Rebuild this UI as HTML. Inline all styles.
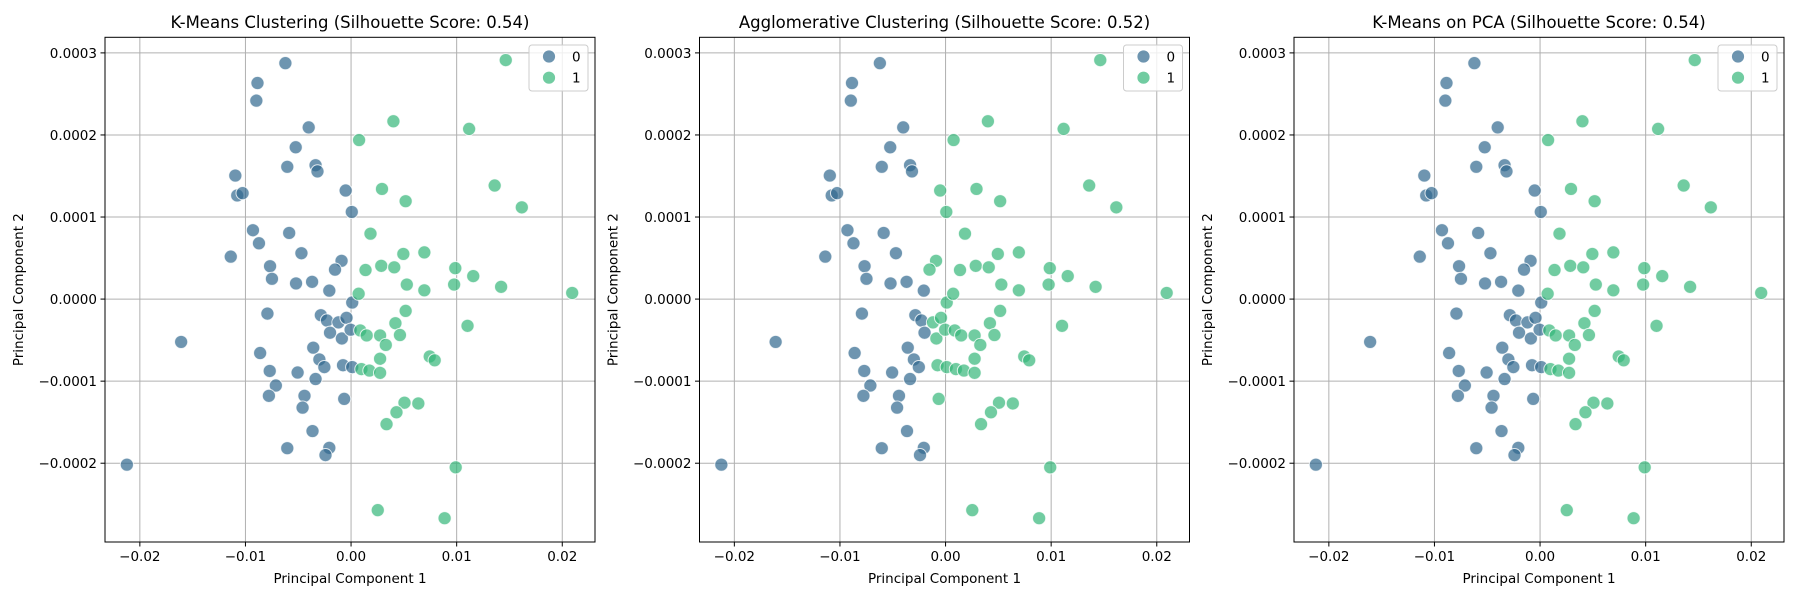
<!DOCTYPE html>
<html><head><meta charset="utf-8"><style>
html,body{margin:0;padding:0;background:#fff;}
svg{display:block;font-family:"DejaVu Sans","Liberation Sans",sans-serif;}
</style></head><body>
<svg id="fig" width="1800" height="600" viewBox="0 0 1800 600" xmlns="http://www.w3.org/2000/svg"></svg>
<script>
// Principal component values (x: PC1, y: PC2)
const pc1 = [-0.00622,-0.00886,-0.00897,-0.00401,-0.00524,-0.00604,-0.00336,-0.00318,-0.01096,-0.01078,-0.01027,-0.00051,0.00007,-0.00929,-0.00586,-0.00872,-0.01139,-0.0047,-0.0009,-0.00152,-0.00767,-0.00749,-0.00521,-0.00369,-0.00206,0.00011,-0.00792,-0.00286,-0.00228,-0.00119,-0.00043,-0.00199,-0.00087,-0.00004,-0.01609,-0.00861,-0.00358,-0.003,-0.00253,-0.00076,0.00011,-0.0077,-0.00506,-0.00336,-0.00712,-0.00778,-0.00441,-0.00459,-0.00065,-0.00365,-0.00604,-0.00206,-0.00242,-0.02123,
0.01465,0.00401,0.01118,0.00076,0.00293,0.00517,0.0136,0.01617,0.00184,0.00495,0.00694,0.00137,0.00286,0.00409,0.00987,0.01157,0.00528,0.00694,0.00976,0.01421,0.02094,0.00072,0.00517,0.0042,0.01103,0.00087,0.00148,0.00275,0.00463,0.00329,0.00275,0.00745,0.00792,0.00098,0.00174,0.00275,0.00506,0.00637,0.0043,0.00336,0.00991,0.00253,0.00886];
const pc2 = [2.875e-4,2.633e-4,2.418e-4,2.092e-4,1.850e-4,1.612e-4,1.631e-4,1.556e-4,1.505e-4,1.263e-4,1.291e-4,1.323e-4,1.062e-4,0.839e-4,0.806e-4,0.680e-4,0.517e-4,0.559e-4,0.466e-4,0.359e-4,0.401e-4,0.247e-4,0.191e-4,0.210e-4,0.103e-4,-0.042e-4,-0.177e-4,-0.196e-4,-0.261e-4,-0.284e-4,-0.228e-4,-0.410e-4,-0.480e-4,-0.373e-4,-0.522e-4,-0.657e-4,-0.592e-4,-0.736e-4,-0.829e-4,-0.806e-4,-0.829e-4,-0.876e-4,-0.895e-4,-0.974e-4,-1.053e-4,-1.179e-4,-1.179e-4,-1.323e-4,-1.216e-4,-1.608e-4,-1.817e-4,-1.813e-4,-1.901e-4,-2.018e-4,
2.912e-4,2.167e-4,2.074e-4,1.938e-4,1.342e-4,1.193e-4,1.384e-4,1.118e-4,0.797e-4,0.550e-4,0.569e-4,0.354e-4,0.405e-4,0.387e-4,0.377e-4,0.280e-4,0.177e-4,0.107e-4,0.177e-4,0.149e-4,0.075e-4,0.065e-4,-0.144e-4,-0.294e-4,-0.326e-4,-0.382e-4,-0.443e-4,-0.443e-4,-0.438e-4,-0.559e-4,-0.727e-4,-0.699e-4,-0.746e-4,-0.853e-4,-0.871e-4,-0.899e-4,-1.263e-4,-1.272e-4,-1.379e-4,-1.524e-4,-2.050e-4,-2.572e-4,-2.670e-4];
const labelsKMeans = "000000000000000000000000000000000000000000000000000000"+"1111111111111111111111111111111111111111111";
const labelsAgglo  = "00000000000110000011000001000110110000011000000010000"+"0"+"1111111111111111111111111111111111111111111";
const labelsPCA = labelsKMeans;
const titles = ["K-Means Clustering (Silhouette Score: 0.54)","Agglomerative Clustering (Silhouette Score: 0.52)","K-Means on PCA (Silhouette Score: 0.54)"];
const xTicks = [-0.02,-0.01,0,0.01,0.02];
const xTickLabels = ["\u22120.02","\u22120.01","0.00","0.01","0.02"];
const yTicks = [0.0003,0.0002,0.0001,0,-0.0001,-0.0002];
const yTickLabels = ["0.0003","0.0002","0.0001","0.0000","\u22120.0001","\u22120.0002"];
const palette = ["#31688e","#35b779"];

const NS="http://www.w3.org/2000/svg";
const fig=document.getElementById('fig');
function mk(tag,attrs,parent){const e=document.createElementNS(NS,tag);for(const k in attrs)e.setAttribute(k,attrs[k]);(parent||fig).appendChild(e);return e;}
const xMin=-0.0233,xMax=0.0231,yMin=-0.000296,yMax=0.000319;
const W=490,T=37.3,B=542;
[labelsKMeans,labelsAgglo,labelsPCA].forEach((labs,p)=>{
  const L=105+p*594.5;
  const sx=v=>L+(v-xMin)/(xMax-xMin)*W;
  const sy=v=>B-(v-yMin)/(yMax-yMin)*(B-T);
  const g=mk('g',{});
  
  
  const t=mk('text',{x:L+W/2,y:28,'text-anchor':'middle','font-size':16.5,fill:'#000'},g);t.textContent=titles[p];
  
  xTicks.forEach((v,i)=>{const x=sx(v);
    const gl=mk('line',{x1:x,x2:x,y1:T,y2:B,stroke:'#b0b0b0','stroke-width':1},g);
    
    mk('line',{x1:x,x2:x,y1:B,y2:B+4.5,stroke:'#000','stroke-width':1},g);
    const tl=mk('text',{x:x,y:B+19,'text-anchor':'middle','font-size':13.5},g);tl.textContent=xTickLabels[i];
    });
  yTicks.forEach((v,i)=>{const y=sy(v);
    const gl=mk('line',{x1:L,x2:L+W,y1:y,y2:y,stroke:'#b0b0b0','stroke-width':1},g);
    
    mk('line',{x1:L-4.5,x2:L,y1:y,y2:y,stroke:'#000','stroke-width':1},g);
    const tl=mk('text',{x:L-8,y:y+5,'text-anchor':'end','font-size':13.5},g);tl.textContent=yTickLabels[i];
    });
  pc1.forEach((v,i)=>{const c=+labs[i];
    const pt=mk('circle',{cx:sx(v),cy:sy(pc2[i]),r:6.6,fill:palette[c],'fill-opacity':0.7,stroke:'#fff','stroke-opacity':0.8,'stroke-width':1},g);
    });
  const fr=mk('rect',{x:L,y:T,width:W,height:B-T,fill:'none',stroke:'#000','stroke-width':1},g);
  
  const xl=mk('text',{x:L+W/2,y:583,'text-anchor':'middle','font-size':13.5},g);xl.textContent='Principal Component 1';
  
  const yl=mk('text',{x:0,y:0,'text-anchor':'middle','font-size':13.5,transform:`translate(${L-82},${(T+B)/2}) rotate(-90)`},g);yl.textContent='Principal Component 2';
  
  const lg=mk('g',{},g);
  
  mk('rect',{x:L+W-66,y:45,width:59,height:46,rx:3,fill:'#fff','fill-opacity':0.8,stroke:'#ccc'},lg);
  [0,1].forEach(c=>{
    const m=mk('circle',{cx:L+W-46,cy:56.5+c*21.2,r:6.6,fill:palette[c],'fill-opacity':0.7,stroke:'#fff'},lg);
    
    const lt=mk('text',{x:L+W-23,y:61.5+c*21.2,'font-size':13.5},lg);lt.textContent=String(c);
    });
});
</script>
</body></html>
